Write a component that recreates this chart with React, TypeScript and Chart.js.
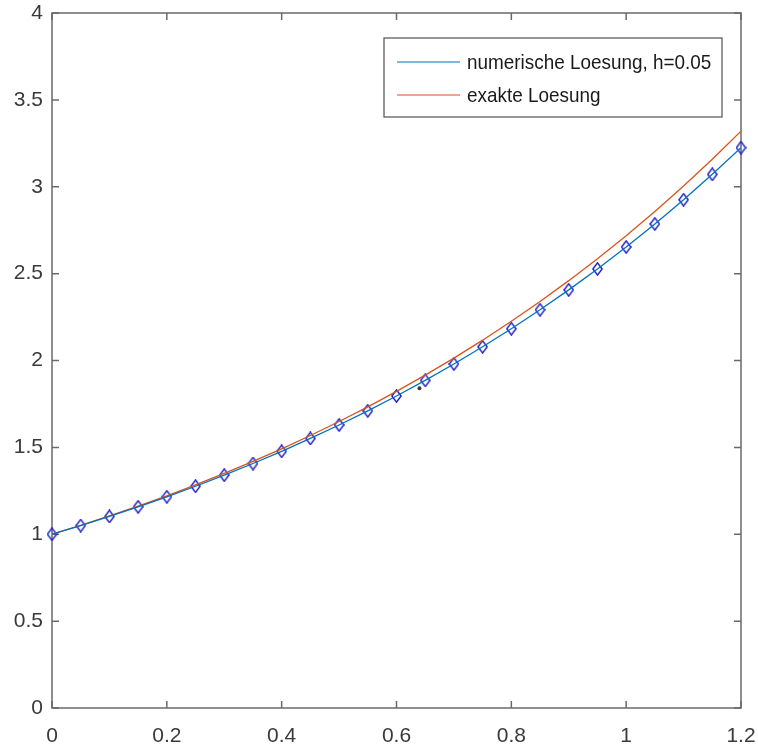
import React, { useEffect, useRef } from "react";
import { Chart, registerables } from "chart.js";

Chart.register(...registerables);

// ---- data ----
const xValues = [0, 0.05, 0.1, 0.15, 0.2, 0.25, 0.3, 0.35, 0.4, 0.45, 0.5, 0.55, 0.6, 0.65, 0.7, 0.75, 0.8, 0.85, 0.9, 0.95, 1.0, 1.05, 1.1, 1.15, 1.2];
const numericY = [1, 1.05, 1.1025, 1.1576, 1.2155, 1.2763, 1.3401, 1.4071, 1.4775, 1.5513, 1.6289, 1.7103, 1.7959, 1.8856, 1.9799, 2.0789, 2.1829, 2.292, 2.4066, 2.527, 2.6533, 2.786, 2.9253, 3.0715, 3.2251];
const exactY = [1, 1.0513, 1.1052, 1.1618, 1.2214, 1.284, 1.3499, 1.4191, 1.4918, 1.5683, 1.6487, 1.7333, 1.8221, 1.9155, 2.0138, 2.117, 2.2255, 2.3396, 2.4596, 2.5857, 2.7183, 2.8577, 3.0042, 3.1582, 3.3201];
const strayX = [0.64];
const strayY = [1.84];
const xTicks = [0, 0.2, 0.4, 0.6, 0.8, 1, 1.2];
const yTicks = [0, 0.5, 1, 1.5, 2, 2.5, 3, 3.5, 4];
const seriesLabels = ["numerische Loesung, h=0.05", "exakte Loesung"];

const BLUE = "#0072BD";
const ORANGE = "#D95319";
const MARKER = "#2020c8";
const AXIS = "#6a6a6a";
const TEXT = "#3a3a3a";
const FONT_FAMILY = '"Liberation Sans", Arial, sans-serif';

function makeDiamond(): HTMLCanvasElement {
  const c = document.createElement("canvas");
  const w = 11, h = 14;
  c.width = w;
  c.height = h;
  const g = c.getContext("2d")!;
  g.strokeStyle = MARKER;
  g.lineWidth = 1.5;
  g.beginPath();
  g.moveTo(w / 2, 0.9);
  g.lineTo(w - 0.9, h / 2);
  g.lineTo(w / 2, h - 0.9);
  g.lineTo(0.9, h / 2);
  g.closePath();
  g.stroke();
  return c;
}

const boxPlugin = {
  id: "matlabBox",
  beforeDatasetsDraw(chart: any) {
    const { ctx, chartArea } = chart;
    const { left, right, top, bottom } = chartArea;
    const xs = chart.scales.x;
    const ys = chart.scales.y;
    ctx.save();
    ctx.strokeStyle = AXIS;
    ctx.lineWidth = 1.5;
    ctx.strokeRect(left, top, right - left, bottom - top);
    const tl = 7;
    ctx.beginPath();
    xTicks.forEach((v) => {
      const px = xs.getPixelForValue(v);
      ctx.moveTo(px, bottom);
      ctx.lineTo(px, bottom - tl);
      ctx.moveTo(px, top);
      ctx.lineTo(px, top + tl);
    });
    yTicks.forEach((v) => {
      const py = ys.getPixelForValue(v);
      ctx.moveTo(left, py);
      ctx.lineTo(left + tl, py);
      ctx.moveTo(right, py);
      ctx.lineTo(right - tl, py);
    });
    ctx.stroke();
    ctx.restore();
  },
};

const legendPlugin = {
  id: "insideLegend",
  afterDatasetsDraw(chart: any) {
    const { ctx, chartArea } = chart;
    const bx = chartArea.right - 357;
    const by = chartArea.top + 25;
    const bw = 338;
    const bh = 79;
    ctx.save();
    ctx.fillStyle = "#ffffff";
    ctx.fillRect(bx, by, bw, bh);
    ctx.strokeStyle = "#505050";
    ctx.lineWidth = 1.2;
    ctx.strokeRect(bx, by, bw, bh);
    const colors = [BLUE, ORANGE];
    ctx.font = `21px ${FONT_FAMILY}`;
    ctx.textBaseline = "middle";
    ctx.fillStyle = "#1a1a1a";
    seriesLabels.forEach((lab, i) => {
      const y = by + 24 + i * 33;
      ctx.strokeStyle = colors[i];
      ctx.lineWidth = 1.2;
      ctx.beginPath();
      ctx.moveTo(bx + 13, y);
      ctx.lineTo(bx + 76, y);
      ctx.stroke();
      ctx.save();
      ctx.translate(bx + 83, y + 1);
      ctx.scale(0.9, 1);
      ctx.fillText(lab, 0, 0);
      ctx.restore();
    });
    ctx.restore();
  },
};

export default function App() {
  const ref = useRef<HTMLCanvasElement | null>(null);

  useEffect(() => {
    if (!ref.current) return;
    const numericPts = xValues.map((x, i) => ({ x, y: numericY[i] }));
    const exactPts = xValues.map((x, i) => ({ x, y: exactY[i] }));
    const strayPts = strayX.map((x, i) => ({ x, y: strayY[i] }));
    const diamond = makeDiamond();

    const chart = new Chart(ref.current, {
      type: "line",
      data: {
        datasets: [
          {
            label: seriesLabels[0],
            data: numericPts,
            borderColor: BLUE,
            borderWidth: 1.3,
            pointRadius: 0,
            fill: false,
            tension: 0,
          },
          {
            label: seriesLabels[1],
            data: exactPts,
            borderColor: ORANGE,
            borderWidth: 1.3,
            pointRadius: 0,
            fill: false,
            tension: 0,
          },
          {
            label: "markers",
            data: numericPts,
            showLine: false,
            pointStyle: diamond as any,
            pointRadius: 6,
            borderColor: MARKER,
            backgroundColor: "rgba(0,0,0,0)",
            clip: false as any,
          },
          {
            label: "stray",
            data: strayPts,
            showLine: false,
            pointStyle: "circle",
            pointRadius: 2,
            borderWidth: 0,
            backgroundColor: "#3a3a3a",
            borderColor: "#3a3a3a",
          },
        ],
      },
      options: {
        responsive: false,
        animation: false,
        devicePixelRatio: 1,
        layout: { padding: { top: 13, right: 17, left: 0, bottom: 0 } },
        plugins: {
          legend: { display: false },
          tooltip: { enabled: false },
        },
        scales: {
          x: {
            type: "linear",
            min: 0,
            max: 1.2,
            grid: { display: false, drawTicks: false },
            border: { display: false },
            afterBuildTicks: (s: any) => {
              s.ticks = xTicks.map((v) => ({ value: v }));
            },
            afterFit: (s: any) => {
              s.height = 48;
              s.paddingLeft = 0;
              s.paddingRight = 0;
            },
            ticks: {
              padding: 16,
              color: TEXT,
              font: { family: FONT_FAMILY, size: 21 },
              maxRotation: 0,
              autoSkip: false,
              callback: (v: any) => String(v),
            },
          },
          y: {
            type: "linear",
            min: 0,
            max: 4,
            grid: { display: false, drawTicks: false },
            border: { display: false },
            afterBuildTicks: (s: any) => {
              s.ticks = yTicks.map((v) => ({ value: v }));
            },
            afterFit: (s: any) => {
              s.width = 52;
              s.paddingTop = 0;
              s.paddingBottom = 0;
            },
            ticks: {
              padding: 9,
              color: TEXT,
              font: { family: FONT_FAMILY, size: 21 },
              autoSkip: false,
              callback: (v: any) => String(v),
            },
          },
        },
      },
      plugins: [boxPlugin, legendPlugin],
    });
    return () => chart.destroy();
  }, []);

  return (
    <div style={{ position: "absolute", left: 0, top: 0, width: 758, height: 756, background: "#fff" }}>
      <canvas ref={ref} width={758} height={756} style={{ display: "block" }} />
    </div>
  );
}
